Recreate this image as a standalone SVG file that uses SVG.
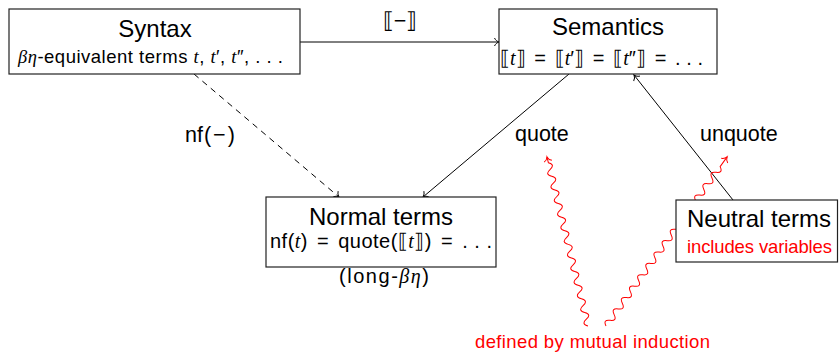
<svg xmlns="http://www.w3.org/2000/svg" width="839" height="352" viewBox="0 0 839 352">
<style>
  .box { fill: #ffffff; stroke: #222222; stroke-width: 1.2; }
  .t { font-family: "Liberation Sans", Arial, sans-serif; fill: #000000; }
  .big { font-size: 24px; }
  .small { font-size: 18.5px; }
  .math { font-size: 20px; }
  .lbl { font-size: 21.5px; }
  .mi { font-family: "Liberation Serif", "DejaVu Serif", serif; font-style: italic; }
  .red { fill: #ff0000; }
  .edge { fill: none; stroke: #000000; stroke-width: 1; }
  .wave { fill: none; stroke: #ff0000; stroke-width: 1; }
</style>
<defs>
  <marker id="arr" markerUnits="userSpaceOnUse" viewBox="-8 -6 12 12" markerWidth="12" markerHeight="12" refX="0" refY="0" orient="auto">
    <path d="M-4.5,-4 C-3.5,-1.8 -1.5,-0.4 0,0 C-1.5,0.4 -3.5,1.8 -4.5,4" fill="none" stroke="#000000" stroke-width="1"/>
  </marker>
  <marker id="arrRed" markerUnits="userSpaceOnUse" viewBox="-8 -6 12 12" markerWidth="12" markerHeight="12" refX="0" refY="0" orient="auto">
    <path d="M-4.5,-4 C-3.5,-1.8 -1.5,-0.4 0,0 C-1.5,0.4 -3.5,1.8 -4.5,4" fill="none" stroke="#ff0000" stroke-width="1"/>
  </marker>
</defs>

<g id="connectors">
  <line class="edge" x1="300" y1="42" x2="499" y2="42" marker-end="url(#arr)"/>
  <line class="edge" x1="194" y1="74" x2="339" y2="197" stroke-dasharray="6 5" marker-end="url(#arr)"/>
  <line class="edge" x1="569" y1="74" x2="423" y2="197" marker-end="url(#arr)"/>
  <line class="edge" x1="733" y1="200" x2="634" y2="75" marker-end="url(#arr)"/>
  <path class="wave" transform="translate(588,326) rotate(-103.64)" marker-end="url(#arrRed)"
        d="M0,0 q3.5,-6.5 7,0 t7,0 t7,0 t7,0 t7,0 t7,0 t7,0 t7,0 t7,0 t7,0 t7,0 t7,0 t7,0 t7,0 t7,0 t7,0 t7,0 t7,0 t7,0 t7,0 t7,0 t7,0 t7,0 t7,0 l6,0"/>
  <path class="wave" transform="translate(606,326) rotate(-54.39)" marker-end="url(#arrRed)"
        d="M0,0 q3.5,-6.5 7,0 t7,0 t7,0 t7,0 t7,0 t7,0 t7,0 t7,0 t7,0 t7,0 t7,0 t7,0 t7,0 t7,0 t7,0 t7,0 t7,0 t7,0 t7,0 t7,0 t7,0 t7,0 t7,0 t7,0 t7,0 t7,0 t7,0 t7,0 l12,0"/>
  <text class="t lbl" x="400" y="28" text-anchor="middle">⟦−⟧</text>
  <text class="t lbl" x="185" y="142">nf<tspan dx="1">(</tspan><tspan dx="2">−</tspan><tspan dx="2">)</tspan></text>
  <text class="t lbl" x="515" y="141">quote</text>
  <text class="t lbl" x="700" y="141">unquote</text>
</g>

<g id="syntax">
  <rect class="box" x="9" y="9" width="291" height="65"/>
  <text class="t big" x="155" y="37" text-anchor="middle">Syntax</text>
  <text class="t small" x="150.5" y="63" text-anchor="middle" textLength="265" lengthAdjust="spacing"><tspan class="mi">βη</tspan>-equivalent terms <tspan class="mi">t</tspan>, <tspan class="mi">t</tspan>′, <tspan class="mi">t</tspan>″, . . .</text>
</g>

<g id="semantics">
  <rect class="box" x="499" y="9" width="218" height="65"/>
  <text class="t big" x="608" y="35" text-anchor="middle">Semantics</text>
  <text class="t math" x="601.5" y="65" text-anchor="middle" textLength="203" lengthAdjust="spacing">⟦<tspan class="mi">t</tspan>⟧ <tspan dx="3">=</tspan> <tspan dx="3">⟦</tspan><tspan class="mi">t</tspan>′⟧ <tspan dx="3">=</tspan> <tspan dx="3">⟦</tspan><tspan class="mi">t</tspan>″⟧ <tspan dx="3">=</tspan> <tspan dx="3">.</tspan> . .</text>
</g>

<g id="normal">
  <rect class="box" x="266" y="197" width="230" height="70"/>
  <text class="t big" x="381" y="225" text-anchor="middle">Normal terms</text>
  <text class="t math" x="381" y="248" text-anchor="middle" textLength="222" lengthAdjust="spacing">nf(<tspan class="mi">t</tspan>) <tspan dx="3">=</tspan> <tspan dx="3">quote(⟦</tspan><tspan class="mi">t</tspan>⟧) <tspan dx="3">=</tspan> <tspan dx="3">.</tspan> . .</text>
  <text class="t math" x="384" y="283" text-anchor="middle" textLength="90" lengthAdjust="spacing">(long-<tspan class="mi">βη</tspan>)</text>
</g>

<g id="neutral">
  <rect class="box" x="676" y="200" width="161.5" height="62"/>
  <text class="t big" x="759" y="227" text-anchor="middle">Neutral terms</text>
  <text class="t small red" x="759.5" y="253" text-anchor="middle" textLength="145" lengthAdjust="spacing">includes variables</text>
</g>

<g id="note">
  <text class="t small red" x="592.5" y="348" text-anchor="middle" textLength="235" lengthAdjust="spacing">defined by mutual induction</text>
</g>
</svg>
